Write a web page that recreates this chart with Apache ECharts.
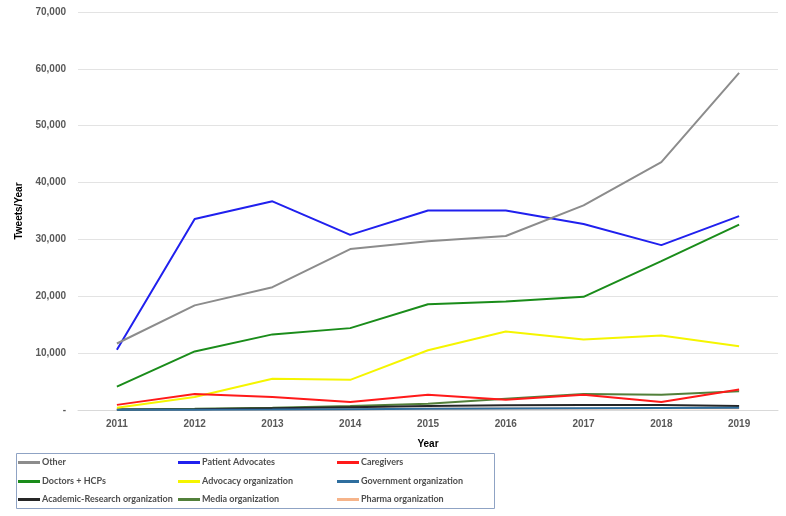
<!DOCTYPE html>
<html><head><meta charset="utf-8">
<script src="https://cdn.jsdelivr.net/npm/echarts@6/dist/echarts.min.js"></script>
<style>html,body{margin:0;padding:0;background:#fff}#c{width:786px;height:516px}</style>
</head><body><div id="c"></div>
<script>
const years = ['2011','2012','2013','2014','2015','2016','2017','2018','2019'];
const seriesNames = ['Other','Patient Advocates','Caregivers','Doctors + HCPs','Advocacy organization','Government organization','Academic-Research organization','Media organization','Pharma organization'];
const other = [11700,18400,21600,28300,29700,30600,36000,43600,59300];
const patientAdvocates = [10600,33600,36700,30800,35100,35100,32700,29000,34100];
const caregivers = [900,2800,2300,1400,2700,1800,2700,1400,3600];
const doctors = [4100,10300,13300,14400,18600,19100,19900,26200,32600];
const advocacyOrg = [400,2300,5500,5300,10500,13800,12400,13100,11200];
const governmentOrg = [30,60,100,150,200,250,300,350,400];
const academicOrg = [100,150,300,500,700,850,880,880,700];
const mediaOrg = [100,200,400,700,1100,2000,2800,2700,3300];
const pharmaOrg = [50,80,100,150,200,250,250,300,300];
const yTicks = {min:0, max:70000, interval:10000};

const values = [other,patientAdvocates,caregivers,doctors,advocacyOrg,governmentOrg,academicOrg,mediaOrg,pharmaOrg];
const colors = ['#8c8c8c','#2020ee','#ff1a1a','#1a8c1a','#f5f500','#2e6e9e','#262626','#52803a','#f6b48a'];
const FONT = "'Liberation Sans',sans-serif";
const LFONT = "Lato,'Liberation Sans',sans-serif";

const colLefts = [18,178,337];
const rowTops = [458,477,495];
const legends = seriesNames.map((n,i)=>({
  left:colLefts[i%3], top:rowTops[Math.floor(i/3)], orient:'horizontal', padding:0, itemGap:0,
  itemWidth:22, itemHeight:3, icon:'rect',
  textStyle:{color:'#4d4d4d',fontWeight:'bold',fontSize:9,padding:[0,0,0,-3],fontFamily:LFONT},
  data:[n]
}));

const chart = echarts.init(document.getElementById('c'));
chart.setOption({
  animation:false,
  grid:{left:78,right:8,top:12,bottom:106},
  graphic:[{type:'rect',left:14,top:451,shape:{x:0,y:0,width:478,height:55},
    style:{fill:'none',stroke:'#8fa3c4',lineWidth:1}}],
  xAxis:{type:'category',data:years,boundaryGap:true,
    axisLine:{lineStyle:{color:'#d9d9d9'}},axisTick:{show:false},
    axisLabel:{color:'#595959',fontWeight:'bold',fontSize:10,margin:9,fontFamily:FONT},
    name:'Year',nameLocation:'middle',nameGap:29,
    nameTextStyle:{color:'#000',fontWeight:'bold',fontSize:10,fontFamily:FONT}},
  yAxis:{type:'value',min:yTicks.min,max:yTicks.max,interval:yTicks.interval,
    axisLine:{show:false},axisTick:{show:false},
    splitLine:{lineStyle:{color:'#e3e3e3'}},
    axisLabel:{color:'#595959',fontWeight:'bold',fontSize:10,margin:12,fontFamily:FONT,
      formatter:v=>v===0?'-':v.toLocaleString('en-US')},
    name:'Tweets/Year',nameLocation:'middle',nameGap:54,
    nameTextStyle:{color:'#000',fontWeight:'bold',fontSize:10,fontFamily:FONT}},
  legend:legends,
  series:seriesNames.map((n,i)=>({name:n,type:'line',data:values[i],
    showSymbol:false,symbol:'none',color:colors[i],
    lineStyle:{width:2,color:colors[i]},z:10-i}))
});
</script></body></html>
